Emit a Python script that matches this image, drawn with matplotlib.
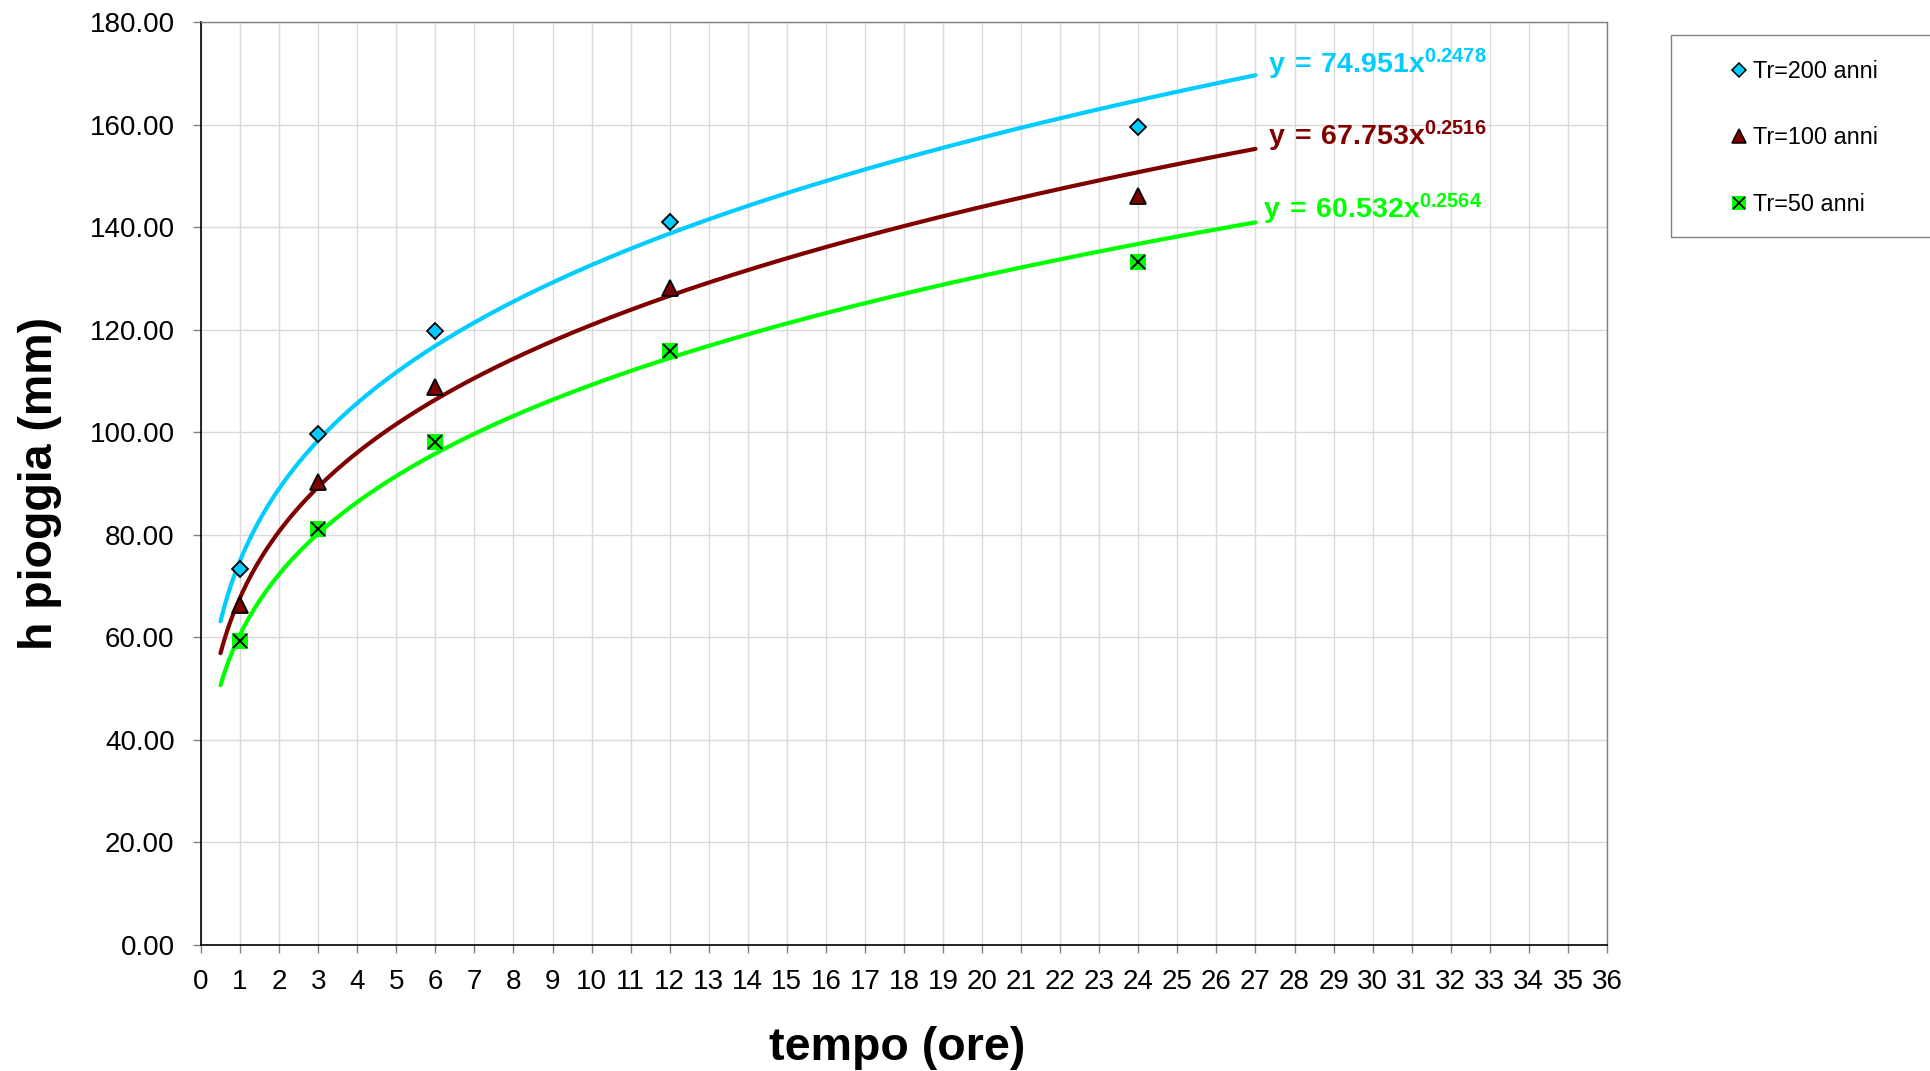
import matplotlib
matplotlib.use("Agg")
import matplotlib.pyplot as plt
import numpy as np
from matplotlib.lines import Line2D
from matplotlib.patches import Rectangle

plt.rcParams['font.family'] = ['Liberation Sans', 'DejaVu Sans']
plt.rcParams['mathtext.fontset'] = 'custom'
plt.rcParams['mathtext.rm'] = 'Liberation Sans'
plt.rcParams['mathtext.bf'] = 'Liberation Sans:bold'

# Durations (hours) and rainfall depths (mm) for each return period
durata = [1, 3, 6, 12, 24]
h_tr200 = [73.3, 99.6, 119.8, 140.9, 159.6]
h_tr100 = [66.3, 90.2, 108.8, 128.1, 146.1]
h_tr50 = [59.3, 81.1, 98.0, 115.9, 133.1]

# Power-law trendline coefficients  h = a * t^n
a_tr200, n_tr200 = 74.951, 0.2478
a_tr100, n_tr100 = 67.753, 0.2516
a_tr50, n_tr50 = 60.532, 0.2564

legend_labels = ["Tr=200 anni", "Tr=100 anni", "Tr=50 anni"]
x_ticks = list(range(0, 37))
y_ticks = [0, 20, 40, 60, 80, 100, 120, 140, 160, 180]

c200 = "#00CCFF"
c100 = "#800000"
c50 = "#00FF00"

W, H = 1930, 1071
fig = plt.figure(figsize=(W / 100, H / 100), dpi=100)
ax = fig.add_axes([201 / W, 1 - 945 / H, 1406 / W, 923 / H])

ax.set_xlim(0, 36)
ax.set_ylim(0, 180)
ax.set_xticks(x_ticks)
ax.set_yticks(y_ticks)
ax.set_yticklabels([f"{v:.2f}" for v in y_ticks])
ax.grid(True, color="#D9D9D9", linewidth=1.0)
ax.set_axisbelow(True)
ax.tick_params(axis="both", direction="out", length=6, width=1, color="#808080",
               labelsize=20, labelcolor="black")
ax.tick_params(axis="y", pad=13)
ax.tick_params(axis="x", pad=11)
for side in ("left", "bottom"):
    ax.spines[side].set_color("black")
    ax.spines[side].set_linewidth(1.2)
for side in ("top", "right"):
    ax.spines[side].set_color("#808080")
    ax.spines[side].set_linewidth(1.0)

# Trendlines
t = np.linspace(0.5, 27, 400)
ax.plot(t, a_tr200 * t ** n_tr200, color=c200, lw=3, solid_capstyle="round", zorder=2)
ax.plot(t, a_tr100 * t ** n_tr100, color=c100, lw=3, solid_capstyle="round", zorder=2)
ax.plot(t, a_tr50 * t ** n_tr50, color=c50, lw=3, solid_capstyle="round", zorder=2)

# Observed points
ms_d = dict(marker="D", ms=8.5, mfc=c200, mec="black", mew=1.3, ls="none")
ms_t = dict(marker="^", ms=11, mfc=c100, mec="black", mew=1.3, ls="none")
ms_s = dict(marker="s", ms=11.5, mfc=c50, mec=c50, mew=0, ls="none")
ms_x = dict(marker="x", ms=10, mec="black", mew=1.4, ls="none")
ax.plot(durata, h_tr200, zorder=3, **ms_d)
ax.plot(durata, h_tr100, zorder=3, **ms_t)
ax.plot(durata, h_tr50, zorder=3, **ms_s)
ax.plot(durata, h_tr50, zorder=4, **ms_x)

# Trendline equations
def equation(a, n):
    return rf"$\mathbf{{y\,=\,{a}x^{{{n}}}}}$"

ax.text(27.32, 171.8, equation(a_tr200, n_tr200), color=c200,
        fontsize=20.5, ha="left", va="center")
ax.text(27.32, 157.6, equation(a_tr100, n_tr100), color=c100,
        fontsize=20.5, ha="left", va="center")
ax.text(27.2, 143.5, equation(a_tr50, n_tr50), color=c50,
        fontsize=20.5, ha="left", va="center")

ax.set_xlabel("tempo (ore)", fontsize=33.5, fontweight="bold")
ax.xaxis.set_label_coords(0.4955, -0.088)
ax.set_ylabel("h pioggia (mm)", fontsize=33.5, fontweight="bold", labelpad=20)

# Legend box
fig.patches.append(Rectangle((1671 / W, 1 - 237 / H), 0.2, (237 - 35) / H,
                             transform=fig.transFigure, fill=False,
                             edgecolor="#808080", lw=1.0))
handles = [
    Line2D([], [], marker="D", ms=6.8, mfc=c200, mec="black", mew=1.1, ls="none"),
    Line2D([], [], marker="^", ms=10, mfc=c100, mec="black", mew=1.1, ls="none"),
    (Line2D([], [], marker="s", ms=10, mfc=c50, mec=c50, mew=0, ls="none"),
     Line2D([], [], marker="x", ms=9, mec="black", mew=1.2, ls="none")),
]
fig.legend(handles, legend_labels, loc="upper left",
           bbox_to_anchor=(1727 / W, 1 - 60 / H), frameon=False,
           fontsize=16.8, handlelength=1.0, handletextpad=0.1,
           labelspacing=1.86, borderpad=0, borderaxespad=0)

fig.savefig("out.png", dpi=100)
